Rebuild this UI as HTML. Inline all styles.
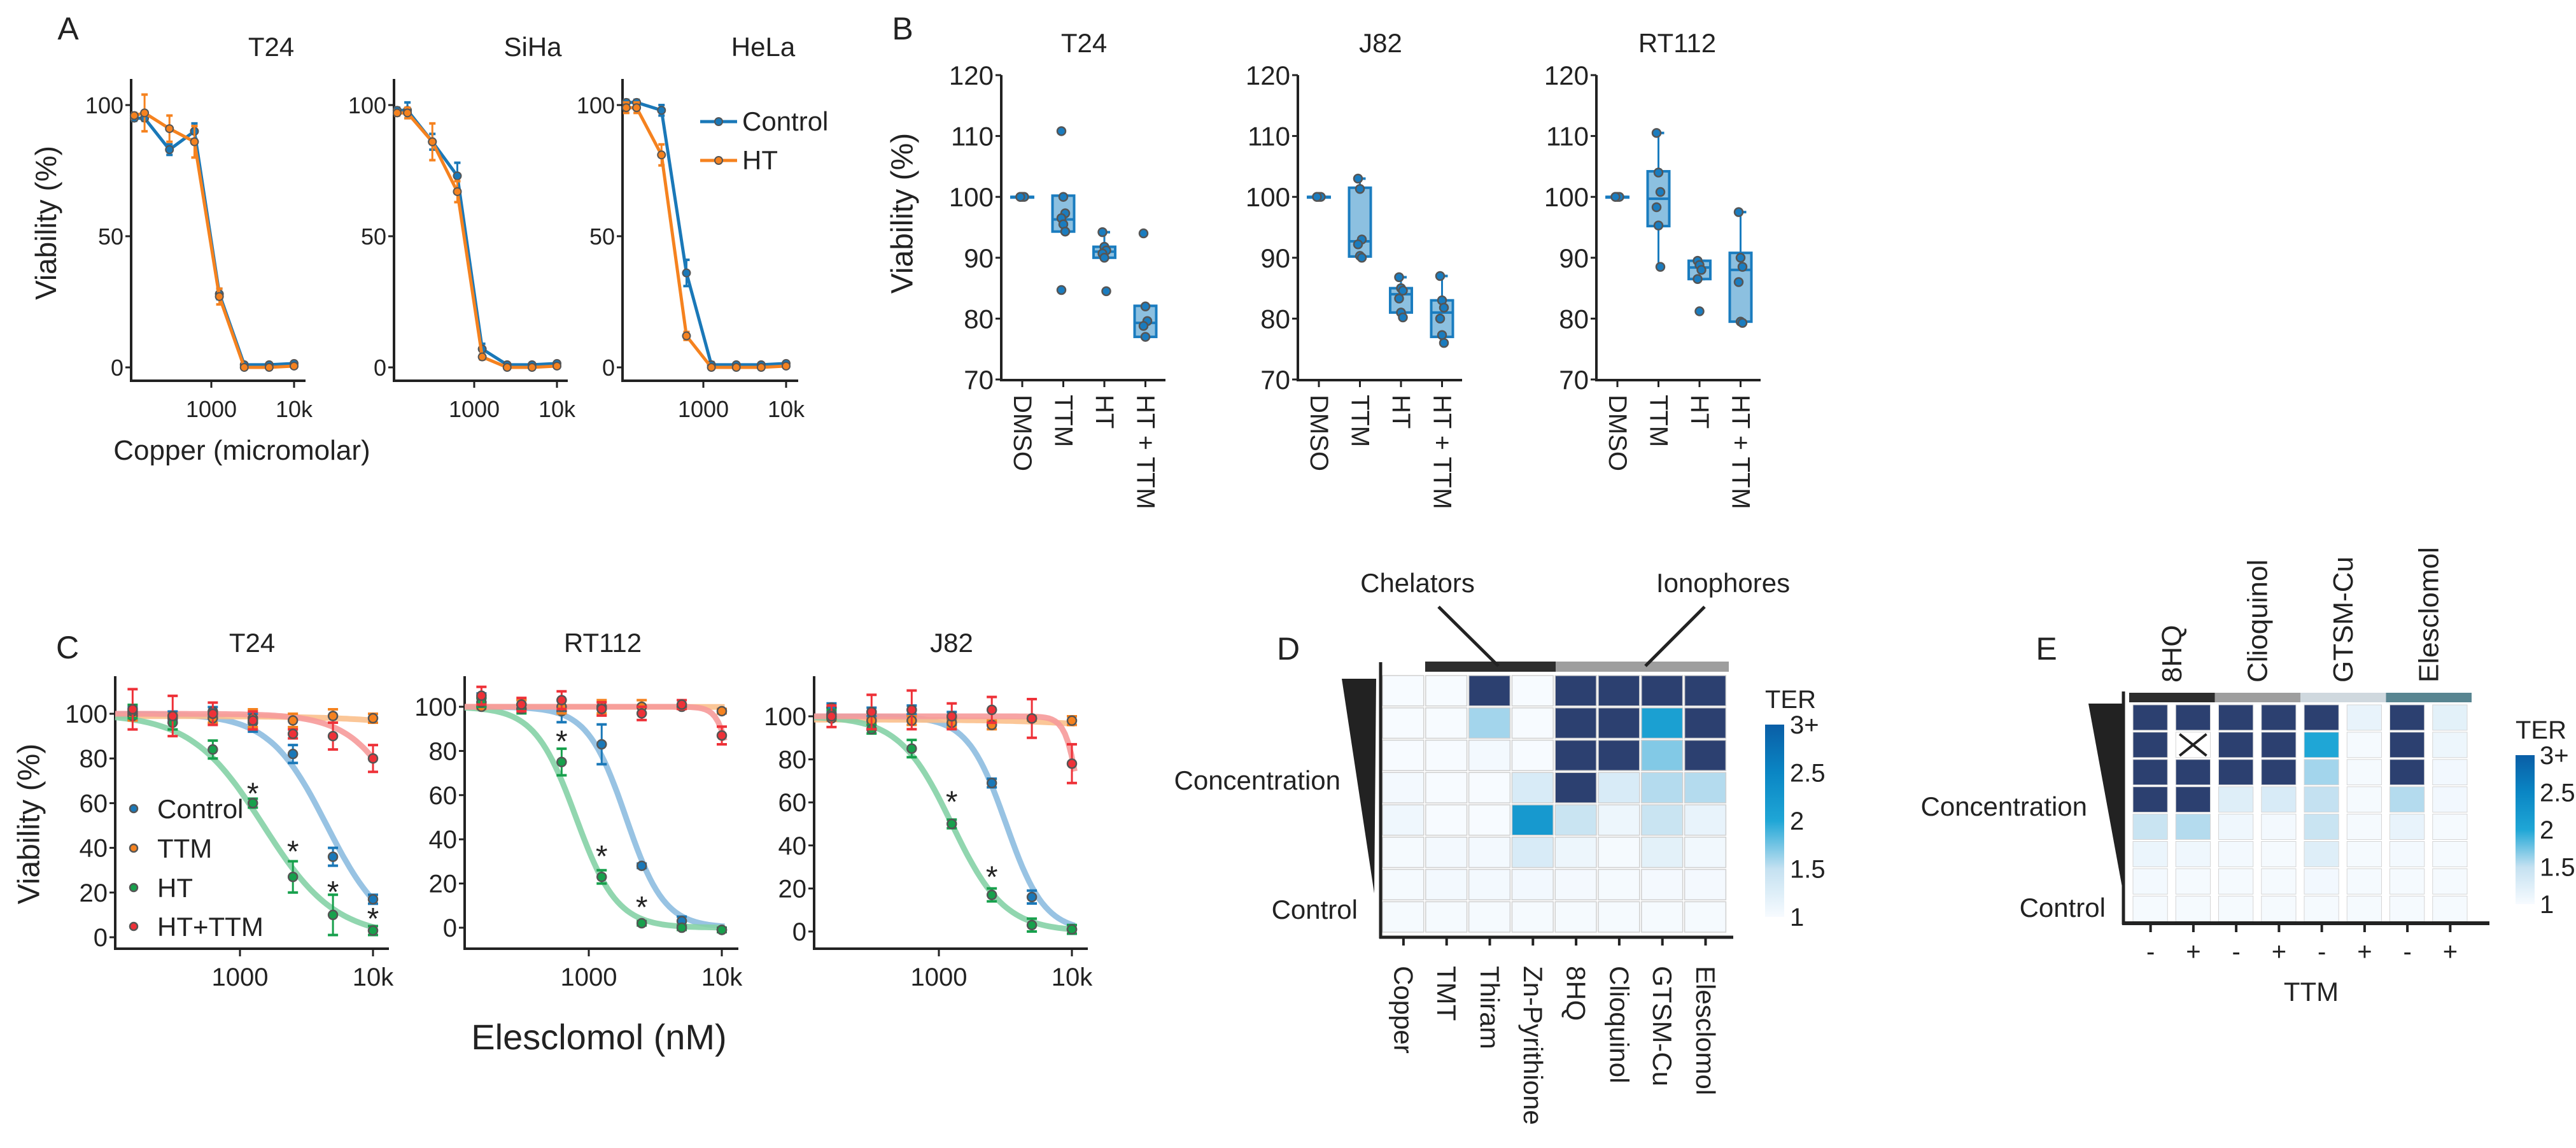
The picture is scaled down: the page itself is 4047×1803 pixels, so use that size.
<!DOCTYPE html>
<html><head><meta charset="utf-8"><title>Figure</title>
<style>
html,body{margin:0;padding:0;background:#fff;}
svg{display:block;}
text{font-family:"Liberation Sans",sans-serif;fill:#222;}
.n{font-family:"Liberation Sans Narrow","Liberation Sans",sans-serif;}
</style></head>
<body>
<svg id="fig" xmlns="http://www.w3.org/2000/svg" width="4047" height="1803" viewBox="0 0 4047 1803">
<defs>
<linearGradient id="cbar" x1="0" y1="1" x2="0" y2="0">
<stop offset="0" stop-color="#f7fbff"/><stop offset="0.25" stop-color="#c4e1f1"/><stop offset="0.5" stop-color="#1fa6d6"/><stop offset="0.75" stop-color="#0a86c4"/><stop offset="1" stop-color="#0a5ea6"/>
</linearGradient>
</defs>
</svg>
<script>
// ---------- Panel A data ----------
const aConc=[117,156,312,625,1250,2500,5000,10000];
const aCells=['T24','SiHa','HeLa'];
const aCtrl=[[95,95,83,90,28,1,1,1.5],[98,98,86,73,7,1,1,1.5],[101,101,98,36,1,1,1,1.5]];
const aHT=[[96,97,91,86,27,0,0,0.5],[97,97,86,67,4,0,0,0.5],[99,99,81,12,0,0,0,0.5]];
const aCtrlErr=[[1,1,2,3,2,0.5,0.5,0.5],[1,3,3,5,2,0.5,0.5,0.5],[1,1,2,5,1,0.5,0.5,0.5]];
const aHTErr=[[1,7,5,6,3,0.5,0.5,0.5],[1,2,7,4,1,0.5,0.5,0.5],[2,2,4,1.5,0.5,0.5,0.5,0.5]];
const aYTicks=[0,50,100];
const aXTicks=[1000,10000];
const aXTickLabels=['1000','10k'];
// ---------- Panel B data ----------
const bCells=['T24','J82','RT112'];
const bGroups=['DMSO','TTM','HT','HT + TTM'];
const bPoints=[
 [[100,100,100,100],[110.8,100,97.3,96.5,95.5,94.3,84.7],[94.2,91.8,91.2,90.7,90,84.5],[94,82,79.6,78.8,77]],
 [[100,100,100,100],[103,101.3,93,92.2,90.3,90],[86.8,85,84.6,83.3,81,80.2],[87,83,81.8,80,77.3,76]],
 [[100,100,100,100],[110.5,104,100.8,98.3,95.3,88.5],[89.5,88.8,88,86.5,81.2],[97.5,90,88.5,86,79.5,79.3]]];
// box stats: [q1, median, q3, whiskerLow, whiskerHigh]
const bBoxes=[
 [[100,100,100,100,100],[94.3,96.3,100.2,94.3,100.2],[90,91,91.8,90,94.2],[77,79.3,82.1,77,82.1]],
 [[100,100,100,100,100],[90.2,92.7,101.5,90,103],[81,84,85,80,86.8],[77,81,83,76,87]],
 [[100,100,100,100,100],[95.2,99.7,104.2,88.5,110.5],[86.5,88.4,89.5,86.5,89.5],[79.5,88,90.8,79.3,97.5]]];
const bYTicks=[70,80,90,100,110,120];
// ---------- Panel C data ----------
const cCells=['T24','RT112','J82'];
const cConc=[156,312,625,1250,2500,5000,10000];
const cSeries=['Control','TTM','HT','HT+TTM'];
const cCtrl=[[100,99,101,96,82,36,17],[104,101,98,83,28,3,-1],[104,102,103,99,69,16,1]];
const cTTM=[[99,98,98,98,97,99,98],[100,101,100,100,100,100,98],[99,98,98,97,96,99,98]];
const cHT=[[101,96,84,60,27,10,3],[102,99,75,23,2,0,-1],[101,94,85,50,17,3,1]];
const cHTTTM=[[102,99,100,97,91,90,80],[105,101,103,99,97,101,87],[100,102,103,100,103,99,78]];
const cCtrlErr=[[3,2,2,4,4,4,2],[2,2,5,9,1,2,1],[2,2,2,3,2,3,2]];
const cTTMErr=[[2,2,2,4,3,3,2],[1,2,3,3,3,1,1],[1,1,2,2,2,1,2]];
const cHTErr=[[3,3,4,2,7,9,2],[2,2,6,3,1,1,1],[2,2,4,2,3,3,2]];
const cHTTTMErr=[[9,9,5,4,2,6,6],[4,3,4,3,3,2,4],[5,8,9,6,6,9,9]];
// fitted 4PL parameters (top, IC50, hill) per panel per series
const cFitTop=[[100,99,100,100],[100,100,100,100],[100,98.5,100,100]];
const cFitIC50=[[4500,500000,1500,20000],[1900,1e7,800,13000],[3200,500000,1250,12000]];
const cFitHill=[[2,1,1.6,2],[3,1,2.8,8],[3,1,2.2,8]];
const cStarConc=[[1250,2500,5000,10000],[625,1250,2500],[1250,2500]];
const cStarVal=[[66,40,22,10],[86,34,11],[62,27]];
const cYTicks=[0,20,40,60,80,100];
// ---------- Panel D data ----------
const dCols=['Copper','TMT','Thiram','Zn-Pyrithione','8HQ','Clioquinol','GTSM-Cu','Elesclomol'];
const dTER=[
 [1,1,4,1,4,4,4,4],
 [1,1,1.6,1,4,4,2.1,4],
 [1,1,1.04,1,4,4,1.7,4],
 [1.04,1,1,1.3,4,1.3,1.55,1.55],
 [1.08,1,1,2.2,1.45,1.1,1.45,1.15],
 [1.02,1.04,1.04,1.3,1.1,1.02,1.2,1.06],
 [1.02,1.04,1.04,1.05,1.03,1.02,1.03,1.03],
 [1.02,1.02,1.02,1.02,1.02,1.02,1.02,1.02]];
// ---------- Panel E data ----------
const eDrugs=['8HQ','Clioquinol','GTSM-Cu','Elesclomol'];
const eTTM=['-','+','-','+','-','+','-','+'];
const eTER=[
 [4,4,4,4,4,1.15,4,1.2],
 [4,null,4,4,2.0,1.02,4,1.1],
 [4,4,4,4,1.6,1.02,4,1.05],
 [4,4,1.25,1.3,1.5,1.02,1.55,1.05],
 [1.45,1.55,1.08,1.04,1.45,1.02,1.15,1.02],
 [1.12,1.08,1.04,1.02,1.25,1.02,1.04,1.02],
 [1.04,1.02,1.02,1.02,1.05,1.02,1.02,1.02],
 [1.02,1.02,1.02,1.02,1.02,1.02,1.02,1.02]];
const cbTicks=[1,1.5,2,2.5,3];
const cbLabels=['1','1.5','2','2.5','3+'];

// ---------- helpers ----------
const NS='http://www.w3.org/2000/svg';
const svg=document.getElementById('fig');
function mk(tag,attrs,parent){const e=document.createElementNS(NS,tag);for(const k in attrs)e.setAttribute(k,attrs[k]);(parent||svg).appendChild(e);return e;}
function tx(x,y,s,size,anchor,cls,parent,extra){const e=mk('text',Object.assign({x:x,y:y,'font-size':size,'text-anchor':anchor||'middle'},extra||{}),parent);if(cls)e.setAttribute('class',cls);e.textContent=s;return e;}
function line(x1,y1,x2,y2,w,c,parent){return mk('line',{x1:x1,y1:y1,x2:x2,y2:y2,stroke:c||'#222','stroke-width':w||4},parent);}
function lg(v){return Math.log10(v);}

// ---------- Panel A ----------
{
const g=mk('g',{});


let t=tx(107,62,'A',50,'middle','n',g);


const axX=[206,619,978], axEnd=[480,892,1254], x1000=[332,745,1105], titleX=[426,837,1199];
const yA=v=>577-v*4.12;
for(let p=0;p<3;p++){
  const sg=mk('g',{},g);
  
  
  const xs=v=>x1000[p]+(lg(v)-3)*130;
  t=tx(titleX[p],88,aCells[p],42,'middle','n',sg);
  
  
  let ax=line(axX[p],124,axX[p],598,4,'#222',sg);
  
  
  ax=line(axX[p]-2,598,axEnd[p],598,4,'#222',sg);
  
  
  aYTicks.forEach(v=>{line(axX[p]-9,yA(v),axX[p],yA(v),3,'#222',sg);
    const l=tx(axX[p]-12,yA(v)+13,String(v),36,'end','n',sg);
    
    });
  aXTicks.forEach((v,i)=>{line(xs(v),598,xs(v),609,3,'#222',sg);
    const l=tx(xs(v),655,aXTickLabels[i],36,'middle','n',sg);
    
    });
  [[aCtrl,aCtrlErr,'#1a78b8','control'],[aHT,aHTErr,'#f5821f','ht']].forEach(([d,e,c,nm])=>{
    const pts=aConc.map((v,i)=>xs(v)+','+yA(d[p][i])).join(' ');
    const pl=mk('polyline',{points:pts,fill:'none',stroke:c,'stroke-width':5},sg);
    
    
    aConc.forEach((v,i)=>{const x=xs(v),y=yA(d[p][i]),er=e[p][i]*4.12;
      line(x,y-er,x,y+er,3,c,sg);line(x-5,y-er,x+5,y-er,4,c,sg);line(x-5,y+er,x+5,y+er,4,c,sg);
      const pt=mk('circle',{cx:x,cy:y,r:6,fill:c,stroke:'#555','stroke-width':2},sg);
      
      });
  });
}
t=tx(72,350,'Viability (%)',46,'middle','',g,{transform:'rotate(-90 72 350)','dominant-baseline':'central'});


t=tx(380,722,'Copper (micromolar)',44,'middle','',g);


const leg=mk('g',{},g);


[['Control','#1a78b8',191],['HT','#f5821f',252]].forEach(([s,c,y])=>{
  line(1100,y,1158,y,5,c,leg);mk('circle',{cx:1129,cy:y,r:6,fill:c,stroke:'#555','stroke-width':2},leg);
  const l=tx(1166,y+14,s,42,'start','n',leg);
  
  });
}

// ---------- Panel B ----------
{
const g=mk('g',{});


let t=tx(1418,62,'B',50,'middle','n',g);


t=tx(1418,335,'Viability (%)',48,'middle','',g,{transform:'rotate(-90 1418 335)','dominant-baseline':'central'});


const axX=[1573,2039,2508], titleX=[1703,2169,2635];
const yB=v=>596-(v-70)*9.56;
for(let p=0;p<3;p++){
  const sg=mk('g',{},g);
  
  
  const cx=i=>axX[p]+33+i*64.5;
  t=tx(titleX[p],82,bCells[p],42,'middle','n',sg);
  
  
  let ax=line(axX[p],118,axX[p],598,4,'#222',sg);
  
  
  ax=line(axX[p]-2,597,axX[p]+258,597,4,'#222',sg);
  
  
  bYTicks.forEach(v=>{line(axX[p]-9,yB(v),axX[p],yB(v),3,'#222',sg);
    const l=tx(axX[p]-12,yB(v)+15,String(v),42,'end','n',sg);
    
    });
  bGroups.forEach((gname,i)=>{
    const x=cx(i);line(x,597,x,608,3,'#222',sg);
    const l=tx(x,620,gname,40,'start','',sg,{transform:'rotate(90 '+x+' 620)','dominant-baseline':'central'});
    
    
    const b=bBoxes[p][i];
    line(x,yB(b[4]),x,yB(b[3]),3,'#1a7cbf',sg);
    line(x,yB(b[4]),x+9,yB(b[4]),4,'#1a7cbf',sg);line(x,yB(b[3]),x+9,yB(b[3]),4,'#1a7cbf',sg);
    const bx=mk('rect',{x:x-17,y:yB(b[2]),width:34,height:Math.max(1,yB(b[0])-yB(b[2])),fill:'#8cc0e0',stroke:'#1a7cbf','stroke-width':4},sg);
    
    
    line(x-17,yB(b[1]),x+17,yB(b[1]),4,'#1a7cbf',sg);
    bPoints[p][i].forEach((v,k)=>{
      const pt=mk('circle',{cx:x+((k%3)-1)*3,cy:yB(v),r:6.5,fill:'#1a7cbf',stroke:'#555','stroke-width':2.5},sg);
      
      });
  });
}
}

// ---------- Panel C ----------
{
const g=mk('g',{});


let t=tx(106,1034,'C',50,'middle','n',g);


t=tx(46,1294,'Viability (%)',48,'middle','',g,{transform:'rotate(-90 46 1294)','dominant-baseline':'central'});


t=tx(941,1648,'Elesclomol (nM)',56,'middle','n',g);


const axX=[181,730,1279], x1000=[377,925,1475], titleX=[396,947,1495], y0=[1472,1457,1463], y100=[1121,1110,1125];
const ptCol=['#1a78b8','#f5821f','#17a04c','#ee3138'], crvCol=['#8dbde0','#fbc08c','#85d1a6','#f69a9a'];
const data=[cCtrl,cTTM,cHT,cHTTTM], errs=[cCtrlErr,cTTMErr,cHTErr,cHTTTMErr];
for(let p=0;p<3;p++){
  const sg=mk('g',{},g);
  
  
  const xs=v=>x1000[p]+(lg(v)-3)*209;
  const ys=v=>y0[p]+(y100[p]-y0[p])*v/100;
  t=tx(titleX[p],1024,cCells[p],42,'middle','n',sg);
  
  
  let ax=line(axX[p],1062,axX[p],1492,4,'#222',sg);
  
  
  ax=line(axX[p]-2,1490,axX[p]+430,1490,4,'#222',sg);
  
  
  cYTicks.forEach(v=>{line(axX[p]-9,ys(v),axX[p],ys(v),3,'#222',sg);
    const l=tx(axX[p]-12,ys(v)+14,String(v),40,'end','n',sg);
    
    });
  aXTicks.forEach((v,i)=>{line(xs(v),1490,xs(v),1502,3,'#222',sg);
    const l=tx(xs(v),1548,aXTickLabels[i],40,'middle','n',sg);
    
    });
  const lx0=lg(1000)+(axX[p]-x1000[p])/209;
  for(let s=0;s<4;s++){
    let d='';
    for(let k=0;k<=80;k++){const lv=lx0+(lg(10500)-lx0)*k/80, v=Math.pow(10,lv);
      const yv=cFitTop[p][s]/(1+Math.pow(v/cFitIC50[p][s],cFitHill[p][s]));
      d+=(k?'L':'M')+xs(v).toFixed(1)+','+ys(yv).toFixed(1);}
    const c=mk('path',{d:d,fill:'none',stroke:crvCol[s],'stroke-width':9,'stroke-opacity':0.9},sg);
    
    
  }
  for(let s=0;s<4;s++){
    cConc.forEach((v,i)=>{const x=xs(v),y=ys(data[s][p][i]),er=errs[s][p][i]*(y0[p]-y100[p])/100;
      line(x,y-er,x,y+er,3,ptCol[s],sg);line(x-8,y-er,x+8,y-er,4,ptCol[s],sg);line(x-8,y+er,x+8,y+er,4,ptCol[s],sg);
      const pt=mk('circle',{cx:x,cy:y,r:7,fill:ptCol[s],stroke:'#555','stroke-width':2.5},sg);
      
      });
  }
  cStarConc[p].forEach((v,i)=>{const st=tx(xs(v),ys(cStarVal[p][i])+22,'*',48,'middle','',sg);
    
    });
}
const leg=mk('g',{},g);


[1270,1332,1394,1455].forEach((y,s)=>{
  mk('circle',{cx:210,cy:y,r:6,fill:ptCol[s],stroke:'#555','stroke-width':2.5},leg);
  const l=tx(247,y+15,cSeries[s],42,'start','',leg);
  
  });
}

// ---------- heatmap colour ----------
function terColor(v){
  if(v>=3)return '#2c4070';
  const st=[[1,[247,251,255]],[1.5,[196,225,241]],[2,[31,166,214]],[2.5,[10,134,196]],[3,[10,94,166]]];
  for(let i=0;i<st.length-1;i++){if(v<=st[i+1][0]){const f=(v-st[i][0])/(st[i+1][0]-st[i][0]);
    const c=st[i][1].map((a,j)=>Math.round(a+(st[i+1][1][j]-a)*f));return 'rgb('+c.join(',')+')';}}
  return '#0a5ea6';
}
function colorbar(g,x,yTop,yBot,labelX){
  const cb=mk('g',{},g);
  
  
  mk('rect',{x:x,y:yTop,width:30,height:yBot-yTop,fill:'url(#cbar)'},cb);
  const t=tx(x,yTop-26,'TER',40,'start','n',cb);
  
  
  cbTicks.forEach((v,i)=>{const y=yBot-(v-1)/2*(yBot-yTop);
    const l=tx(labelX,y+14,cbLabels[i],40,'start','n',cb);
    
    });
}

// ---------- Panel D ----------
{
const g=mk('g',{});


let t=tx(2024,1036,'D',50,'middle','n',g);


const x0=2171,pw=67.8,y0=1060,ph=50.75;
dTER.forEach((row,r)=>row.forEach((v,c)=>{
  const cell=mk('rect',{x:x0+c*pw+1,y:y0+r*ph+1,width:pw-3,height:ph-3,fill:terColor(v),stroke:'#cfcfcf','stroke-width':1.5},g);
  
  }));
let b=mk('rect',{x:2239,y:1039,width:205,height:16,fill:'#2d2d2d'},g);


b=mk('rect',{x:2444,y:1039,width:272,height:16,fill:'#9e9e9e'},g);


let ax=line(2169,1040,2169,1474,5,'#222',g);


ax=line(2167,1472,2723,1472,5,'#222',g);


dCols.forEach((s,c)=>{const x=x0+c*pw+pw/2;line(x,1472,x,1485,4,'#222',g);
  const l=tx(x,1517,s,42,'start','',g,{transform:'rotate(90 '+x+' 1517)','dominant-baseline':'central'});
  
  });
const w=mk('polygon',{points:'2108,1066 2162,1066 2159,1403',fill:'#222'},g);


t=tx(2106,1240,'Concentration',42,'end','n',g);


t=tx(2133,1443,'Control',42,'end','n',g);


t=tx(2227,930,'Chelators',42,'middle','n',g);


t=tx(2707,930,'Ionophores',42,'middle','n',g);


line(2260,953,2354,1046,5,'#222',g);line(2678,953,2585,1046,5,'#222',g);
colorbar(g,2773,1138,1440,2812);
}

// ---------- Panel E ----------
{
const g=mk('g',{});


let t=tx(3215,1036,'E',50,'middle','n',g);


const x0=3345,pw=67.25,y0=1106,ph=42.9;
eTER.forEach((row,r)=>row.forEach((v,c)=>{
  const x=x0+c*pw+6,y=y0+r*ph+1;
  const cell=mk('rect',{x:x,y:y,width:pw-13,height:ph-3,fill:v===null?'#ffffff':terColor(v),stroke:'#d5d5d5','stroke-width':1},g);
  
  
  if(v===null){line(x+6,y+3,x+pw-19,y+ph-6,4,'#222',g);line(x+pw-19,y+3,x+6,y+ph-6,4,'#222',g);}
}));
const barCol=['#2d2d2d','#9e9e9e','#cfd8de','#588591'];
eDrugs.forEach((s,i)=>{
  const b=mk('rect',{x:x0+i*2*pw,y:1088,width:2*pw,height:15,fill:barCol[i]},g);
  
  
  const x=x0+(i*2+1)*pw;
  const l=tx(x,1072,s,44,'start','',g,{transform:'rotate(-90 '+x+' 1072)','dominant-baseline':'central'});
  
  });
let ax=line(3336,1086,3336,1452,5,'#222',g);


ax=line(3334,1450,3911,1450,6,'#222',g);


eTTM.forEach((s,c)=>{const x=x0+c*pw+pw/2;line(x,1450,x,1464,4,'#222',g);
  const l=tx(x,1508,s,40,'middle','n',g);
  
  });
t=tx(3631,1572,'TTM',42,'middle','n',g);


const w=mk('polygon',{points:'3281,1105 3337,1105 3335,1399',fill:'#222'},g);


t=tx(3279,1281,'Concentration',42,'end','n',g);


t=tx(3308,1440,'Control',42,'end','n',g);


colorbar(g,3952,1186,1420,3990);
}
</script>
</body></html>
